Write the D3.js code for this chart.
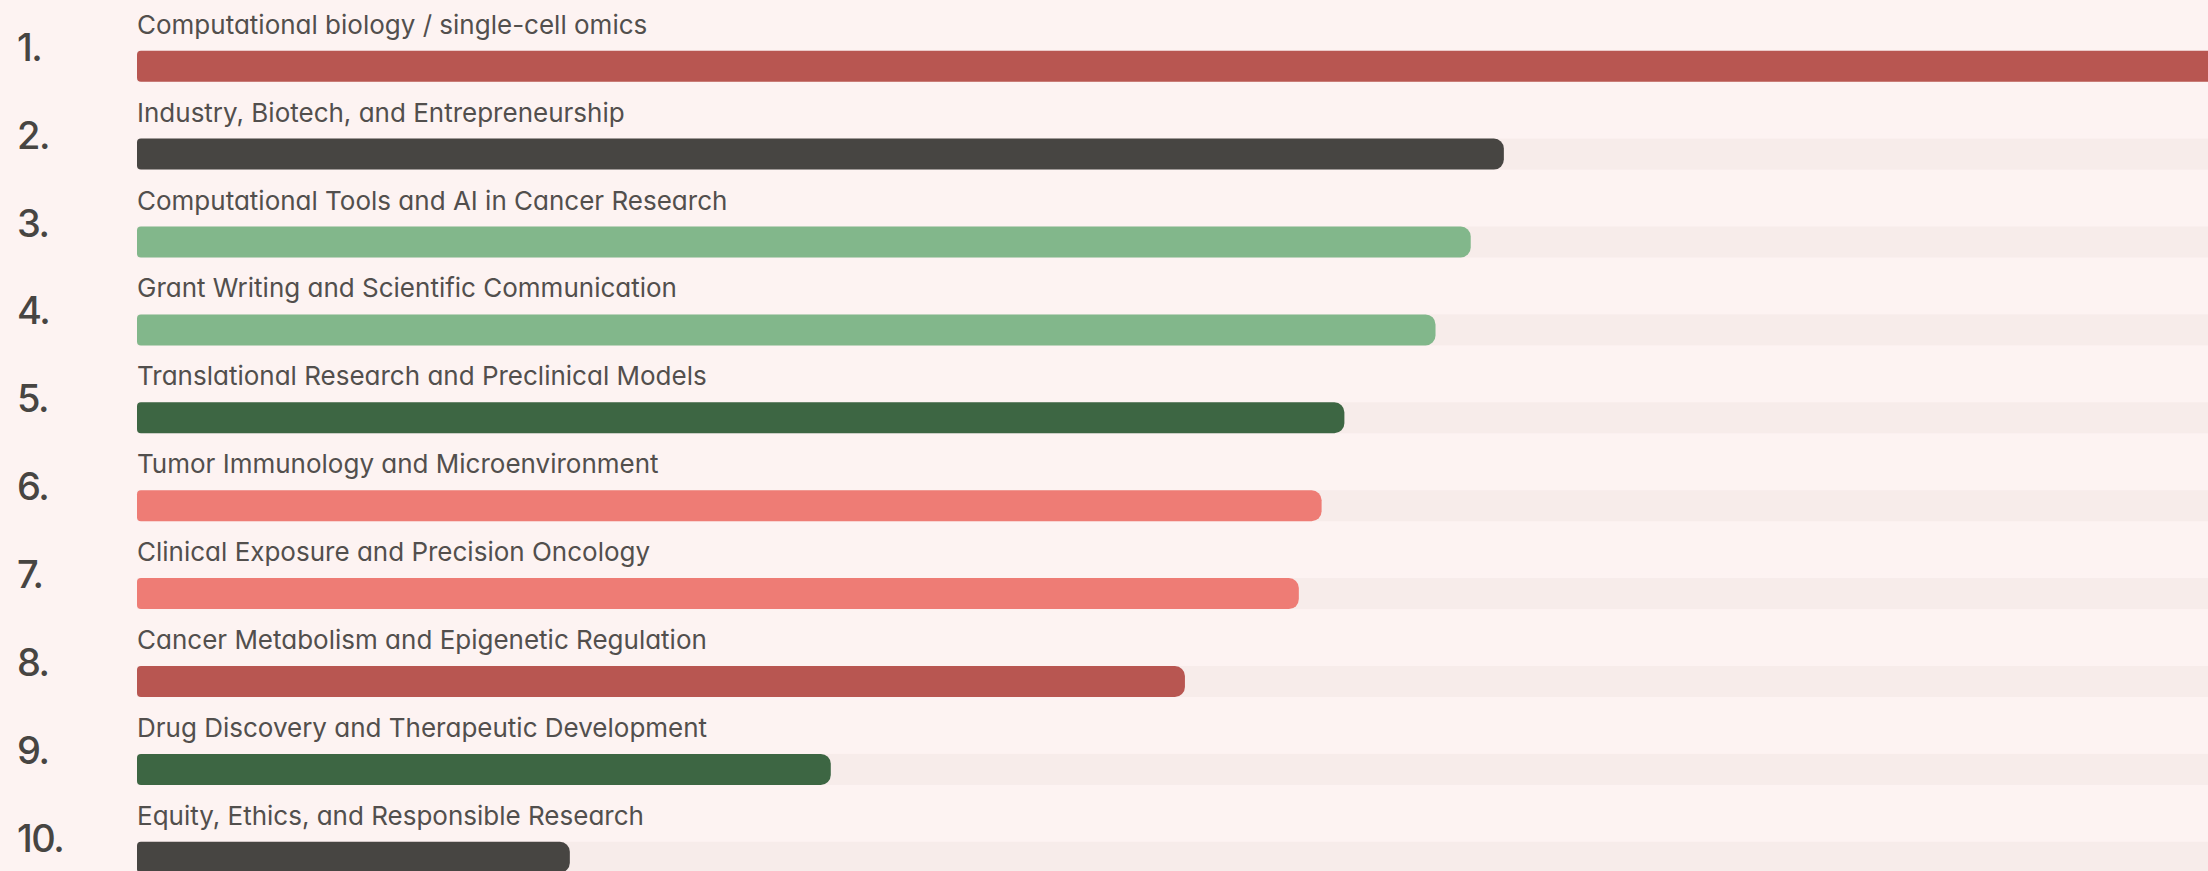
<!DOCTYPE html>
<html>
<head>
<meta charset="utf-8">
<title>Top topics</title>
<script src="https://cdn.jsdelivr.net/npm/d3@7"></script>
<style>
  html, body { margin: 0; padding: 0; background: #fdf3f2; overflow: hidden; }
  svg { display: block; }
  .rank { font-family: Inter, "Noto Sans", sans-serif; font-weight: 500; fill: #474542; }
  .topic { font-family: Inter, "Noto Sans", sans-serif; font-weight: 400; fill: #524f4d;
           font-feature-settings: "cv11"; }
</style>
</head>
<body>
<div id="chart"></div>
<script>
// ranked topics, values as share of the top topic
const ranks = ["1.", "2.", "3.", "4.", "5.", "6.", "7.", "8.", "9.", "10."];
const topics = [
  "Computational biology / single-cell omics",
  "Industry, Biotech, and Entrepreneurship",
  "Computational Tools and AI in Cancer Research",
  "Grant Writing and Scientific Communication",
  "Translational Research and Preclinical Models",
  "Tumor Immunology and Microenvironment",
  "Clinical Exposure and Precision Oncology",
  "Cancer Metabolism and Epigenetic Regulation",
  "Drug Discovery and Therapeutic Development",
  "Equity, Ethics, and Responsible Research"
];
const values = [101, 66.0, 64.4, 62.7, 58.3, 57.2, 56.1, 50.6, 33.5, 20.9];
// colour group of each bar
const groups = ["red", "dark", "light", "light", "green", "salmon", "salmon", "red", "green", "dark"];

const width = 2208;
const height = 871;

const color = d3.scaleOrdinal()
  .domain(["red", "dark", "light", "green", "salmon"])
  .range(["#b85651", "#474542", "#82b78b", "#3d6643", "#ee7c75"]);

const x = d3.scaleLinear().domain([0, 100]).range([137, 2208]);
const y = d3.scaleBand().domain(topics).range([50.7, 50.7 + 87.9 * topics.length]).padding(0);
const barH = 31;

const svg = d3.select("#chart")
  .append("svg")
  .attr("width", width)
  .attr("height", height);

svg.append("rect")
  .attr("width", width)
  .attr("height", height)
  .attr("fill", "#fdf3f2");

// bar shape: small radius on the left, bigger on the right
function barPath(x0, x1, y0, h) {
  const rl = 4, rr = 10;
  const p = d3.path();
  p.moveTo(x0 + rl, y0);
  p.lineTo(x1 - rr, y0);
  p.arcTo(x1, y0, x1, y0 + rr, rr);
  p.lineTo(x1, y0 + h - rr);
  p.arcTo(x1, y0 + h, x1 - rr, y0 + h, rr);
  p.lineTo(x0 + rl, y0 + h);
  p.arcTo(x0, y0 + h, x0, y0 + h - rl, rl);
  p.lineTo(x0, y0 + rl);
  p.arcTo(x0, y0, x0 + rl, y0, rl);
  p.closePath();
  return p.toString();
}

const rows = svg.selectAll(".row")
  .data(topics)
  .join("g")
  .attr("class", "row");

// background track
rows.append("rect")
  .attr("x", x(0))
  .attr("y", d => y(d))
  .attr("width", x(100) - x(0))
  .attr("height", barH)
  .attr("fill", "#f7ecea");

rows.append("path")
  .attr("d", (d, i) => barPath(x(0), x(values[i]), y(d), barH))
  .attr("fill", (d, i) => color(groups[i]));

rows.append("text")
  .attr("class", "topic")
  .attr("x", x(0))
  .attr("y", d => y(d) - 17)
  .style("font-size", "26px")
  .text(d => d);

rows.append("text")
  .attr("class", "rank")
  .attr("x", 17)
  .attr("y", d => y(d) + 10)
  .style("font-size", "38px")
  .style("letter-spacing", "-1.5px")
  .text((d, i) => ranks[i]);
</script>
</body>
</html>
